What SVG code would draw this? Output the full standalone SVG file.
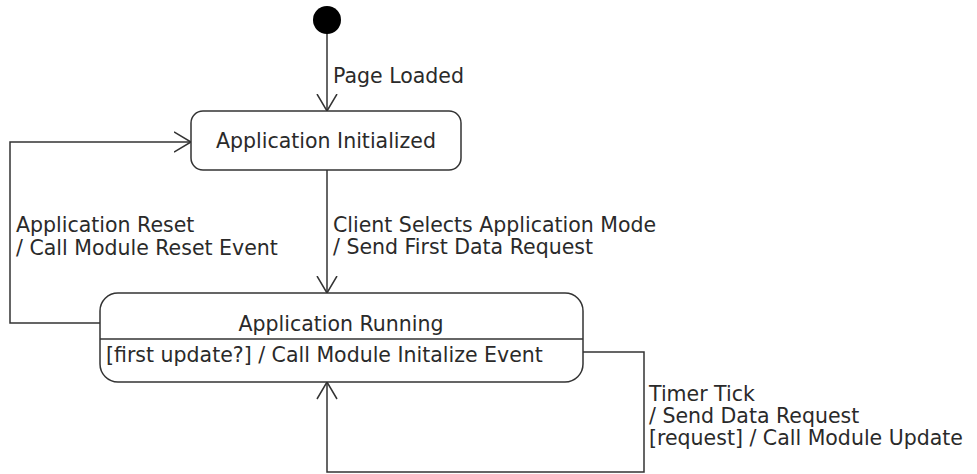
<svg xmlns="http://www.w3.org/2000/svg" width="977" height="474" viewBox="0 0 977 474">
<style>
.st{fill:#fff;stroke:#333;stroke-width:1.5}
.ln{fill:none;stroke:#333;stroke-width:1.5}
text{font-family:"DejaVu Sans","Liberation Sans",sans-serif;font-size:20.5px;fill:#2a2a2a}
.c{text-anchor:middle}
</style>
<defs>
<marker id="open" viewBox="0 0 19 22" refX="17.5" refY="11" markerWidth="19" markerHeight="22" markerUnits="userSpaceOnUse" orient="auto">
<path d="M0.5,1 L17.5,11 L0.5,21" fill="none" stroke="#333" stroke-width="1.5"/>
</marker>
</defs>
<rect width="977" height="474" fill="#fff"/>
<g id="connectors">
<path class="ln" d="M327,33 L327,111" marker-end="url(#open)"/>
<path class="ln" d="M327,170 L327,293" marker-end="url(#open)"/>
<path class="ln" d="M100,323 L10,323 L10,142 L191,142" marker-end="url(#open)"/>
<path class="ln" d="M583,352 L644,352 L644,472 L327,472 L327,382" marker-end="url(#open)"/>
<text x="333" y="83">Page Loaded</text>
<text x="333" y="232">Client Selects Application Mode<tspan x="333" dy="22">/ Send First Data Request</tspan></text>
<text x="16" y="232">Application Reset<tspan x="16" dy="23">/ Call Module Reset Event</tspan></text>
<text x="649" y="401">Timer Tick<tspan x="649" dy="22">/ Send Data Request</tspan><tspan x="649" dy="22">[request] / Call Module Update</tspan></text>
</g>
<g id="initial">
<circle cx="327" cy="20" r="14" fill="#000"/>
</g>
<g id="app-initialized">
<rect class="st" x="191" y="111" width="270" height="59" rx="12"/>
<text class="c" x="326" y="148">Application Initialized</text>
</g>
<g id="app-running">
<rect class="st" x="100" y="293" width="483" height="89" rx="18"/>
<line class="ln" x1="100" y1="339" x2="583" y2="339"/>
<text class="c" x="341" y="331">Application Running</text>
<text x="106" y="362">[first update?] / Call Module Initalize Event</text>
</g>
</svg>
